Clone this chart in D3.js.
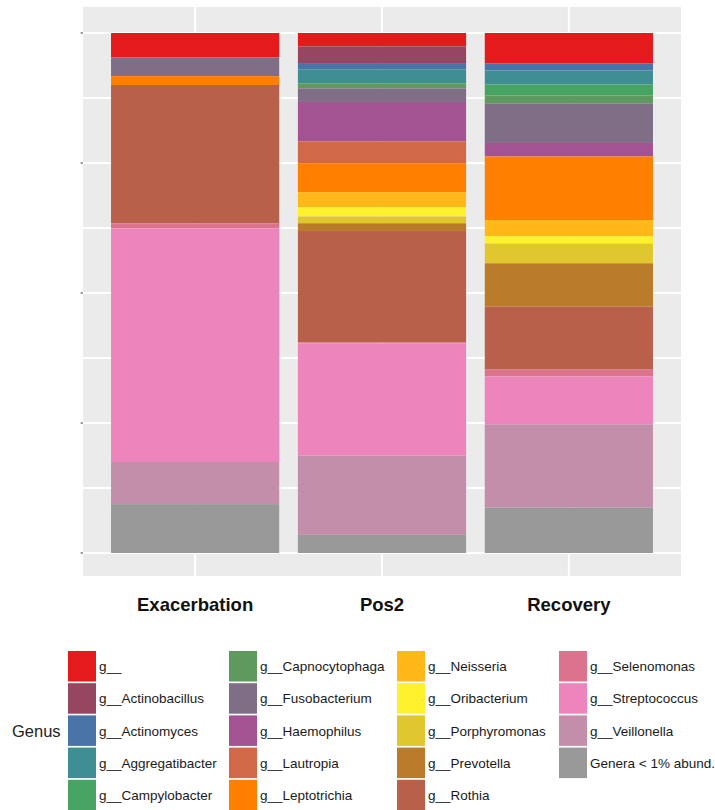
<!DOCTYPE html>
<html>
<head>
<meta charset="utf-8">
<script src="https://cdn.jsdelivr.net/npm/d3@7"></script>
<style>
  body { margin: 0; background: #ffffff; }
  svg { display: block; }
</style>
</head>
<body>
<svg id="chart" width="715" height="810"></svg>
<script>
// Genera in legend order (top of stack first)
const genera = [
  "g__", "g__Actinobacillus", "g__Actinomyces", "g__Aggregatibacter", "g__Campylobacter",
  "g__Capnocytophaga", "g__Fusobacterium", "g__Haemophilus", "g__Lautropia", "g__Leptotrichia",
  "g__Neisseria", "g__Oribacterium", "g__Porphyromonas", "g__Prevotella", "g__Rothia",
  "g__Selenomonas", "g__Streptococcus", "g__Veillonella", "Genera < 1% abund."
];

// Set1 palette stretched over 19 genera
const genusColors = [
  "#E41A1C", "#974661", "#4A73A7", "#3E8E93", "#48A462",
  "#5E995E", "#7F6E85", "#A35391", "#D16948", "#FF7F00",
  "#FFB817", "#FFF12D", "#E1C72F", "#BA7C2A", "#B8604A",
  "#DC738D", "#ED84BB", "#C38EAA", "#999999"
];

const samples = ["Exacerbation", "Pos2", "Recovery"];

// Relative abundance per sample, same order as genera
const exacerbation = [0.047, 0, 0, 0, 0, 0, 0.036, 0, 0, 0.017, 0, 0, 0, 0, 0.266, 0.010, 0.449, 0.081, 0.094];
const pos2         = [0.026, 0.032, 0.012, 0.027, 0, 0.010, 0.026, 0.076, 0.042, 0.056, 0.029, 0.018, 0.013, 0.015, 0.215, 0.002, 0.216, 0.153, 0.035];
const recovery     = [0.058, 0, 0.014, 0.027, 0.021, 0.015, 0.076, 0.026, 0, 0.122, 0.031, 0.014, 0.038, 0.083, 0.121, 0.013, 0.092, 0.160, 0.087];

const yTicks = [0, 0.25, 0.5, 0.75, 1];
const yGrid = d3.range(0, 1.0001, 0.125);

const sampleValues = [exacerbation, pos2, recovery];
const table = samples.map((s, i) => {
  const row = { sample: s };
  genera.forEach((g, j) => { row[g] = sampleValues[i][j]; });
  return row;
});

const svg = d3.select("#chart");

// Positions of the plotting panel
const panelLeft = 83, panelRight = 681;
const x = d3.scaleLinear().domain([0.4, 3.6]).range([panelLeft, panelRight]);
const y = d3.scaleLinear().domain([0, 1]).range([553, 33]);
const color = d3.scaleOrdinal().domain(genera).range(genusColors);
const barWidth = 0.9;

const panelTop = y(1.05), panelBottom = y(-0.044);

// Panel background
svg.append("rect")
  .attr("x", panelLeft).attr("y", panelTop)
  .attr("width", panelRight - panelLeft).attr("height", panelBottom - panelTop)
  .attr("fill", "#EBEBEB");

// Horizontal gridlines
svg.append("g").selectAll("line").data(yGrid).join("line")
  .attr("x1", panelLeft).attr("x2", panelRight)
  .attr("y1", d => y(d)).attr("y2", d => y(d))
  .attr("stroke", "#ffffff").attr("stroke-width", 2);

// Vertical gridlines at sample positions
svg.append("g").selectAll("line").data(samples).join("line")
  .attr("x1", (d, i) => x(i + 1)).attr("x2", (d, i) => x(i + 1))
  .attr("y1", panelTop).attr("y2", panelBottom)
  .attr("stroke", "#ffffff").attr("stroke-width", 2);

// Stacked, normalised bars
const stack = d3.stack()
  .keys(genera)
  .order(d3.stackOrderReverse)
  .offset(d3.stackOffsetExpand);
const series = stack(table);

const bars = svg.append("g");
series.forEach(s => {
  bars.append("g")
    .attr("fill", color(s.key))
    .selectAll("rect").data(s).join("rect")
    .attr("x", (d, i) => x(i + 1 - barWidth / 2))
    .attr("width", x(barWidth) - x(0))
    .attr("y", d => y(d[1]))
    .attr("height", d => Math.max(0, y(d[0]) - y(d[1])));
});

// Y axis tick marks (labels not shown)
svg.append("g").selectAll("line").data(yTicks).join("line")
  .attr("x1", panelLeft - 2.5).attr("x2", panelLeft)
  .attr("y1", d => y(d)).attr("y2", d => y(d))
  .attr("stroke", "#666").attr("stroke-width", 1.2);

// X axis labels
svg.append("g").selectAll("text").data(samples).join("text")
  .attr("x", (d, i) => x(i + 1))
  .attr("y", 611)
  .attr("text-anchor", "middle")
  .attr("font-family", "Liberation Sans, Arial, sans-serif")
  .attr("font-weight", "bold")
  .attr("font-size", 18.5)
  .attr("fill", "#111")
  .text(d => d);

// Legend
const legend = svg.append("g");
legend.append("text")
  .attr("x", 12).attr("y", 737)
  .attr("font-family", "Liberation Sans, Arial, sans-serif")
  .attr("font-size", 16.5)
  .attr("fill", "#222")
  .text("Genus");

const colKeyX = [68, 229, 397, 559];
const rowTop0 = 651, rowStep = 32.2, keyW = 28, keyH = 30.5;
const perCol = 5;

const items = legend.selectAll("g.item").data(genera).join("g")
  .attr("class", "item")
  .attr("transform", (d, i) => {
    const c = Math.floor(i / perCol), r = i % perCol;
    return `translate(${colKeyX[c]},${rowTop0 + r * rowStep})`;
  });

items.append("rect")
  .attr("width", keyW).attr("height", keyH)
  .attr("fill", d => color(d));

items.append("text")
  .attr("x", keyW + 3)
  .attr("y", keyH / 2 + 5)
  .attr("font-family", "Liberation Sans, Arial, sans-serif")
  .attr("font-size", 13.5)
  .attr("fill", "#1a1a1a")
  .text(d => d);
</script>
</body>
</html>
